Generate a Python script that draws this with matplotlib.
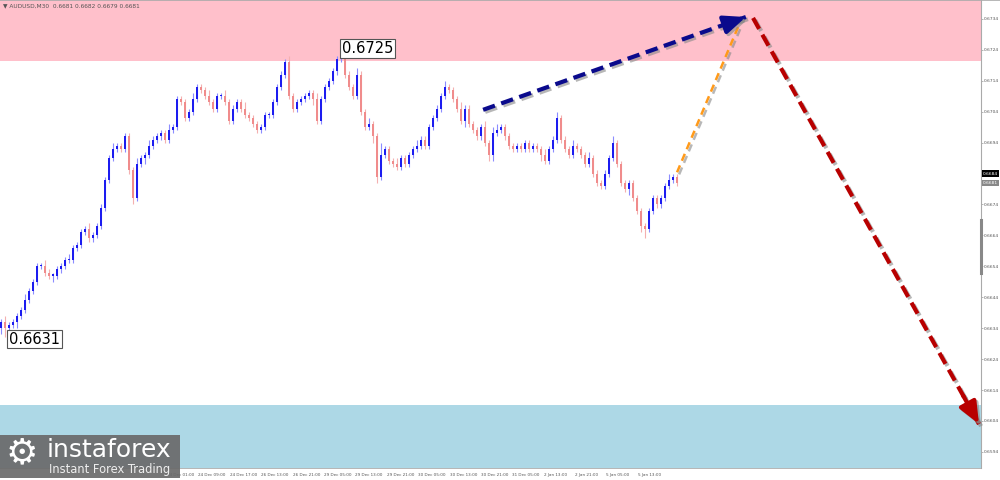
import matplotlib
matplotlib.use("Agg")
import matplotlib.pyplot as plt
import matplotlib.patheffects as pe
from matplotlib.patches import Rectangle
import numpy as np

# --- data (AUDUSD M30) -----------------------------------------------------
first_open = 0.6634
closes = [
    0.6636, 0.6634, 0.6635, 0.6636, 0.6638, 0.6640, 0.6643, 0.6646, 0.6649, 0.6654,
    0.6654, 0.6652, 0.6651, 0.6651, 0.6653, 0.6654, 0.6656, 0.6656, 0.6660, 0.6661,
    0.6665, 0.6666, 0.6663, 0.6664, 0.6667, 0.6673, 0.6682, 0.6689, 0.6692, 0.6693,
    0.6692, 0.6696, 0.6685, 0.6676, 0.6687, 0.6689, 0.6690, 0.6693, 0.6695, 0.6696,
    0.6697, 0.6695, 0.6698, 0.6699, 0.6708, 0.6707, 0.6702, 0.6704, 0.6708, 0.6712,
    0.6711, 0.6709, 0.6707, 0.6705, 0.6709, 0.6709, 0.6707, 0.6701, 0.6705, 0.6707,
    0.6705, 0.6703, 0.6702, 0.6700, 0.6698, 0.6699, 0.6703, 0.6703, 0.6707, 0.6712,
    0.6716, 0.6720, 0.6709, 0.6705, 0.6707, 0.6708, 0.6709, 0.6710, 0.6708, 0.6701,
    0.6708, 0.6712, 0.6714, 0.6717, 0.6721, 0.6724, 0.6716, 0.6712, 0.6709, 0.6716,
    0.6704, 0.6699, 0.6700, 0.6696, 0.6683, 0.6690, 0.6692, 0.6688, 0.6687, 0.6686,
    0.6689, 0.6687, 0.6690, 0.6692, 0.6693, 0.6695, 0.6693, 0.6699, 0.6702, 0.6705,
    0.6709, 0.6712, 0.6711, 0.6708, 0.6705, 0.6701, 0.6705, 0.6700, 0.6698, 0.6696,
    0.6699, 0.6694, 0.6690, 0.6697, 0.6698, 0.6699, 0.6696, 0.6693, 0.6692, 0.6693,
    0.6692, 0.6694, 0.6692, 0.6693, 0.6692, 0.6690, 0.6688, 0.6692, 0.6695, 0.6702,
    0.6695, 0.6692, 0.6690, 0.6693, 0.6692, 0.6690, 0.6687, 0.6689, 0.6684, 0.6681,
    0.6680, 0.6684, 0.6689, 0.6694, 0.6687, 0.6681, 0.6679, 0.6681, 0.6676, 0.6672,
    0.6667, 0.6666, 0.6672, 0.6676, 0.6674, 0.6676, 0.6680, 0.6682, 0.6683, 0.6681,
]
# wick lengths in pips above / below the body
wick_up = [
    1, 2, 1, 1, 1, 1, 2, 1, 1, 1,  1, 2, 1, 1, 1, 1, 1, 2, 1, 1,
    1, 1, 2, 1, 1, 1, 1, 1, 2, 1,  1, 1, 1, 1, 2, 1, 1, 2, 1, 1,
    1, 1, 2, 1, 1, 1, 1, 1, 2, 1,  1, 1, 2, 1, 1, 1, 2, 1, 1, 1,
    1, 2, 1, 1, 1, 1, 1, 1, 1, 1,  1, 1, 2, 1, 1, 1, 1, 1, 1, 2,
    1, 1, 1, 1, 1, 1, 2, 1, 1, 2,  1, 1, 2, 1, 1, 4, 1, 1, 1, 2,
    1, 1, 1, 1, 2, 1, 1, 1, 1, 1,  1, 2, 1, 1, 1, 2, 1, 1, 1, 1,
    1, 2, 1, 2, 2, 1, 1, 1, 1, 1,  1, 1, 1, 1, 1, 1, 2, 1, 1, 2,
    1, 1, 1, 2, 1, 1, 1, 2, 1, 1,  1, 1, 1, 2, 1, 1, 1, 1, 1, 1,
    1, 1, 1, 1, 1, 1, 1, 2, 1, 1,
]
wick_dn = [
    2, 3, 1, 1, 2, 1, 1, 1, 1, 1,  1, 1, 1, 2, 1, 1, 1, 1, 1, 1,
    1, 1, 1, 1, 1, 1, 1, 1, 1, 1,  1, 1, 1, 2, 1, 1, 2, 1, 1, 1,
    1, 1, 1, 1, 1, 1, 1, 1, 1, 1,  1, 1, 1, 1, 1, 1, 1, 1, 1, 1,
    1, 1, 1, 1, 1, 1, 1, 1, 1, 1,  1, 1, 1, 1, 1, 1, 1, 1, 2, 1,
    1, 1, 1, 1, 1, 1, 1, 1, 1, 1,  1, 1, 1, 2, 2, 1, 1, 1, 1, 1,
    1, 1, 1, 1, 1, 1, 1, 1, 1, 1,  1, 1, 1, 1, 1, 1, 2, 1, 1, 1,
    1, 1, 2, 2, 1, 1, 1, 1, 1, 1,  1, 1, 1, 1, 1, 2, 1, 1, 1, 1,
    1, 1, 1, 1, 1, 1, 1, 1, 1, 1,  1, 1, 1, 1, 1, 1, 1, 2, 1, 1,
    2, 3, 1, 1, 1, 1, 1, 1, 1, 1,
]

resistance_zone = (0.67205, 0.6741)
support_zone = (0.6588, 0.66092)
low_label, low_bar = 0.6631, 1
high_label, high_bar = 0.6725, 85
bid_price, last_price = 0.6684, 0.6681

# forecast: (bar, price) waypoints
blue_wave = [(120.5, 0.67046), (186.2, 0.67346)]
orange_wave = [(169.0, 0.66844), (184.5, 0.67321)]
red_wave = [(188.0, 0.67343), (244.5, 0.66030)]

price_ticks = [0.6734, 0.6724, 0.6714, 0.6704, 0.6694, 0.6684, 0.6674, 0.6664,
               0.6654, 0.6644, 0.6634, 0.6624, 0.6614, 0.6604, 0.6594]
# labels left of 24 Dec 01:00 sit under the logo and are not shown
time_labels = ["24 Dec 01:00", "24 Dec 09:00", "24 Dec 17:00",
               "26 Dec 13:00", "26 Dec 21:00", "29 Dec 05:00", "29 Dec 13:00",
               "29 Dec 21:00", "30 Dec 05:00", "30 Dec 13:00", "30 Dec 21:00",
               "31 Dec 05:00", "2 Jan 13:00", "2 Jan 21:00", "5 Jan 05:00",
               "5 Jan 13:00"]
header = "\u25bc AUDUSD,M30  0.6681 0.6682 0.6679 0.6681"

# ---------------------------------------------------------------------------
c = np.array(closes)
o = np.concatenate([[first_open], c[:-1]])
hi = np.maximum(o, c) + np.array(wick_up) * 0.0001
lo = np.minimum(o, c) - np.array(wick_dn) * 0.0001
x = np.arange(len(c))
bull = c >= o

fig = plt.figure(figsize=(10, 4.8), dpi=100)
ax = fig.add_axes([0.0, 12 / 480, 0.981, 468 / 480])
ax.set_xlim(-0.3, 245.0)
ax.set_ylim(0.65888, 0.67401)

ax.axhspan(*resistance_zone, color="#ffc0cb", lw=0, zorder=0)
ax.axhspan(*support_zone, color="#add8e6", lw=0, zorder=0)

BULL, BULL_W, BEAR, BEAR_W = "#1c1cf0", "#8c8cff", "#f08c8c", "#f4b0b0"
ax.vlines(x[bull], lo[bull], hi[bull], color=BULL_W, lw=0.8, zorder=2)
ax.vlines(x[~bull], lo[~bull], hi[~bull], color=BEAR_W, lw=0.8, zorder=2)
body = np.maximum(np.abs(c - o), 0.00004)
ax.bar(x[bull], body[bull], bottom=np.minimum(o, c)[bull], width=0.6,
       color=BULL, lw=0, zorder=3)
ax.bar(x[~bull], body[~bull], bottom=np.minimum(o, c)[~bull], width=0.6,
       color=BEAR, lw=0, zorder=3)

# level labels
box = dict(boxstyle="square,pad=0.12", fc="white", ec="#555555", lw=0.8)
ax.text(high_bar + 0.2, high_label - 0.00005, f"{high_label:.4f}", fontsize=10.5,
        ha="left", va="center", bbox=box, zorder=6)
ax.text(low_bar + 0.9, low_label - 0.00005, f"{low_label:.4f}", fontsize=10.5,
        ha="left", va="center", bbox=box, zorder=6)

# forecast arrows
shadow = [pe.SimpleLineShadow(offset=(1.5, -1.5), shadow_color="#888888",
                              alpha=0.6), pe.Normal()]


def wave(pts, color, lw, head=True, dashes=(3, 1.6)):
    (x0, y0), (x1, y1) = pts
    ax.plot([x0, x1], [y0, y1], color=color, lw=lw, dashes=dashes,
            solid_capstyle="butt", path_effects=shadow, zorder=5,
            clip_on=False)
    if head:
        xb = x1 - (x1 - x0) * 0.07
        yb = y1 - (y1 - y0) * 0.07
        ax.annotate("", xy=(x1, y1), xytext=(xb, yb), zorder=6,
                    annotation_clip=False,
                    arrowprops=dict(arrowstyle="-|>,head_length=1.3,head_width=0.55",
                                    color=color, lw=lw, shrinkA=0, shrinkB=0,
                                    path_effects=shadow))


wave(blue_wave, "#0a0a8c", 3.0)
wave(orange_wave, "#ff9a1a", 1.8, head=False, dashes=(3, 2))
wave(red_wave, "#b80000", 3.0)

# price axis on the right
ax.yaxis.tick_right()
ax.set_yticks(price_ticks)
ax.set_yticklabels([f"{p:.4f}" for p in price_ticks])
ax.tick_params(axis="y", labelsize=3.2, labelcolor="#555555", length=1.2,
               width=0.5, color="#999999", pad=0.6)
for s in ("top", "left", "bottom"):
    ax.spines[s].set_visible(False)
ax.spines["right"].set_color("#aaaaaa")
ax.plot([1.0, 1.0], [0.66520, 0.66690], transform=ax.get_yaxis_transform(),
        color="#888888", lw=2.2, clip_on=False, zorder=7)
for p, fc in ((bid_price, "black"), (last_price, "#888888")):
    ax.text(1.002, p, f"{p:.4f}", transform=ax.get_yaxis_transform(),
            fontsize=3.2, color="white", ha="left", va="center", zorder=8,
            bbox=dict(boxstyle="square,pad=0.25", fc=fc, ec="none"))

# time axis
xt = 41.45 + 7.85 * np.arange(len(time_labels))
ax.set_xticks([])
for xv, lab in zip(xt, time_labels):
    ax.text(xv, -0.011, lab, transform=ax.get_xaxis_transform(), fontsize=3.0,
            color="#555555", ha="left", va="top", clip_on=False)
fig.add_artist(plt.Line2D([0, 0.981], [12 / 480, 12 / 480], color="#aaaaaa",
                          lw=0.6))

fig.text(0.003, 0.988, header, fontsize=4.2, color="#555555", va="center")
fig.add_artist(plt.Line2D([0, 1], [0.999, 0.999], color="#aaaaaa", lw=1.2))

# logo box
fig.add_artist(Rectangle((0, 2 / 480), 180 / 1000, 43 / 480, fc="#6a6a6a",
                         alpha=0.92, ec="none", zorder=8))
fig.text(0.022, 27 / 480, "\u2699", fontsize=26, color="white", ha="center",
         va="center", zorder=9)
fig.text(0.047, 30 / 480, "instaforex", fontsize=18, color="white",
         ha="left", va="center", zorder=9)
fig.text(0.049, 10 / 480, "Instant Forex Trading", fontsize=8.3,
         color="#eeeeee", ha="left", va="center", zorder=9)

fig.savefig("out.png", dpi=100)
